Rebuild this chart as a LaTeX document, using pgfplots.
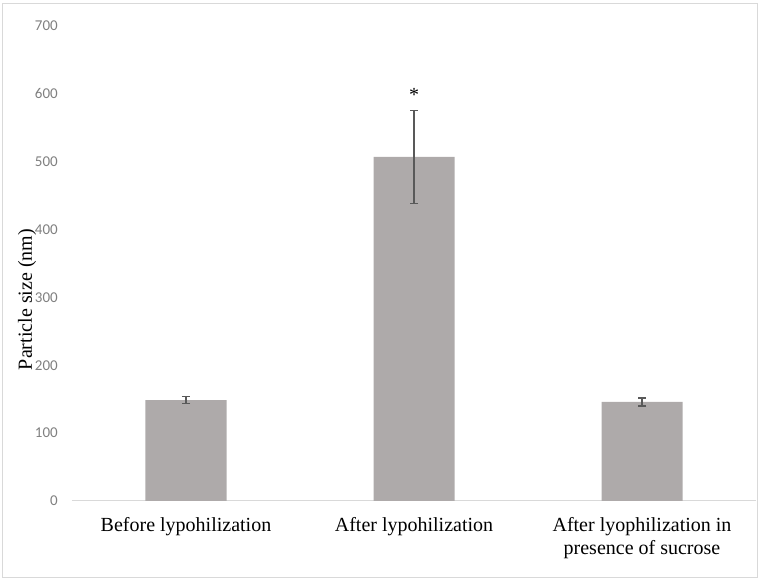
\documentclass[border=0pt]{standalone}
\usepackage{pgfplots}
\pgfplotsset{compat=1.18}
\usepackage{fontspec}
\setmainfont{Liberation Serif}
\newfontfamily\carlito{Carlito}
\definecolor{bargray}{HTML}{AEAAAA}
\definecolor{errgray}{HTML}{595959}
\definecolor{tickgray}{HTML}{7F7F7F}
\definecolor{framegray}{HTML}{D9D9D9}
\begin{document}
\begin{tikzpicture}
\begin{axis}[
  at={(0pt,0pt)}, anchor=south west,
  scale only axis, width=684pt, height=475pt,
  xmin=-0.5, xmax=2.5, ymin=0, ymax=700,
  axis x line*=bottom, axis y line*=left,
  x axis line style={draw=framegray, line width=1pt, -},
  y axis line style={draw=none},
  major tick length=0pt,
  xtick={0,1,2},
  xticklabels={Before lypohilization, After lypohilization, {After lyophilization in\\presence of sucrose}},
  xticklabel style={font=\fontsize{20}{23}\selectfont, align=center, anchor=north, inner sep=0pt, yshift=-16pt},
  ytick={0,100,200,300,400,500,600,700},
  /pgf/number format/assume math mode=true,
  yticklabel style={font=\carlito\fontsize{15}{17}\selectfont, text=tickgray, anchor=east, inner sep=0pt, xshift=-14pt},
  ylabel={Particle size (nm)},
  every axis y label/.style={at={(axis description cs:-0.0658,0.4242)}, rotate=90, anchor=center, font=\fontsize{20}{23}\selectfont},
  ybar, bar width=81pt,
  clip=false,
]
\addplot[fill=bargray, draw=none,
  error bars/.cd, y dir=both, y explicit,
  error bar style={line width=1.3pt, draw=errgray},
  error mark options={rotate=90, mark size=4pt, line width=1.3pt, draw=errgray}]
  coordinates {
    (0,148.8) +- (0,5.6)
    (1,507) +- (0,68.5)
    (2,145.9) +- (0,5.9)
  };
\node[font=\fontsize{20}{23}\selectfont, inner sep=0pt] at (axis cs:1,599) {*};
\end{axis}
\draw[framegray, line width=1pt] (-69pt,-77pt) rectangle (685pt,497pt);
\pgfresetboundingbox
\path[use as bounding box] (-72pt,-82pt) rectangle (691pt,501pt);
\end{tikzpicture}
\end{document}
